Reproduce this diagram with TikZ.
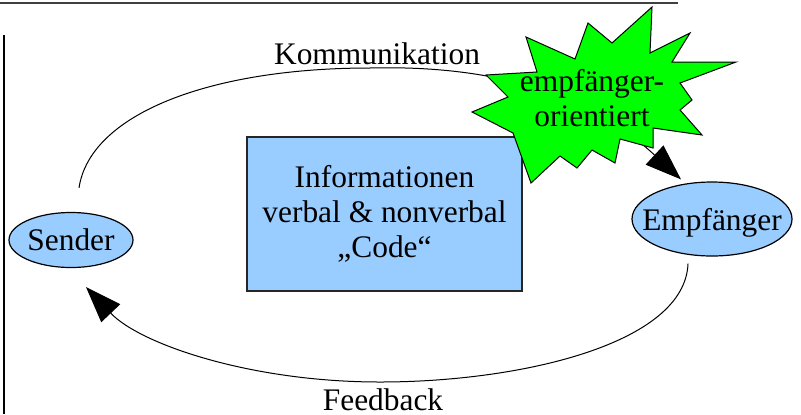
\documentclass[tikz,border=0pt]{standalone}
\usepackage{fontspec}
\setmainfont{Liberation Serif}
\usepackage{xcolor}
\usepackage{tikz}
\usetikzlibrary{shapes,arrows.meta,calc}
\definecolor{lightblue}{HTML}{99CCFF}
\definecolor{stargreen}{HTML}{00FF00}

\begin{document}
\begin{tikzpicture}[x=0.5pt,y=0.5pt,
    every node/.style={font=\fontsize{15.7}{17.5}\selectfont},
    partner/.style={ellipse,draw,fill=lightblue,inner sep=0pt,line width=0.6pt},
    flow/.style={line width=0.5pt,-{Triangle[length=18pt,width=13pt]}}]
    \useasboundingbox (0,0) rectangle (801,414);
    % Frame
    \draw[line width=1pt,black!75] (0,411) -- (678,411);
    \draw[line width=0.8pt] (4,379) -- (4,0);
    % Message
    \node[draw,black!85,text=black,fill=lightblue,line width=0.7pt,minimum width=137.5pt,minimum height=77pt,align=center] (info) at (384.5,200) {Informationen\\verbal \& nonverbal\\„Code“};
    % Partners
    \node[partner,minimum width=62pt,minimum height=27.5pt,label={[text depth=0pt]center:Sender}] (sender) at (71,174) {};
    \node[partner,minimum width=80pt,minimum height=37pt,label={[text depth=0pt]center:Empfänger}] (empf) at (712,195) {};
    % Arcs
    \draw[flow] ([shift={(8,24)}]sender.north) .. controls (90,300) and (210,346) .. (370,346)
        .. controls (530,350) and (610,300) .. ([shift={(-31,2)}]empf.north);
    \draw[flow] ([shift={(-24,-7)}]empf.south) .. controls (685,70) and (520,32) .. (380,32)
        .. controls (250,32) and (140,70) .. ([shift={(15,-19)}]sender.south);
    % Burst
    \draw[fill=stargreen,line width=0.5pt] (652,407) -- (650,361) -- (690,381) -- (672,352) -- (736,352)
        -- (680,331) -- (692,314) -- (680,304) -- (702,279) -- (653,286) -- (653,266) -- (620,275)
        -- (615,251) -- (592,264) -- (577,246) -- (560,258) -- (531,231) -- (513,281) -- (472,302)
        -- (508,317) -- (486,339) -- (537,342) -- (526,377) -- (575,355) -- (588,391) -- (612,371) -- cycle;
    \node[align=center] (burst) at (592,316) {empfänger-\\orientiert};
    % Labels
    \node[anchor=base] (komm) at (377,350) {Kommunikation};
    \node[anchor=base] (feedback) at (383,4) {Feedback};
\end{tikzpicture}
\end{document}
